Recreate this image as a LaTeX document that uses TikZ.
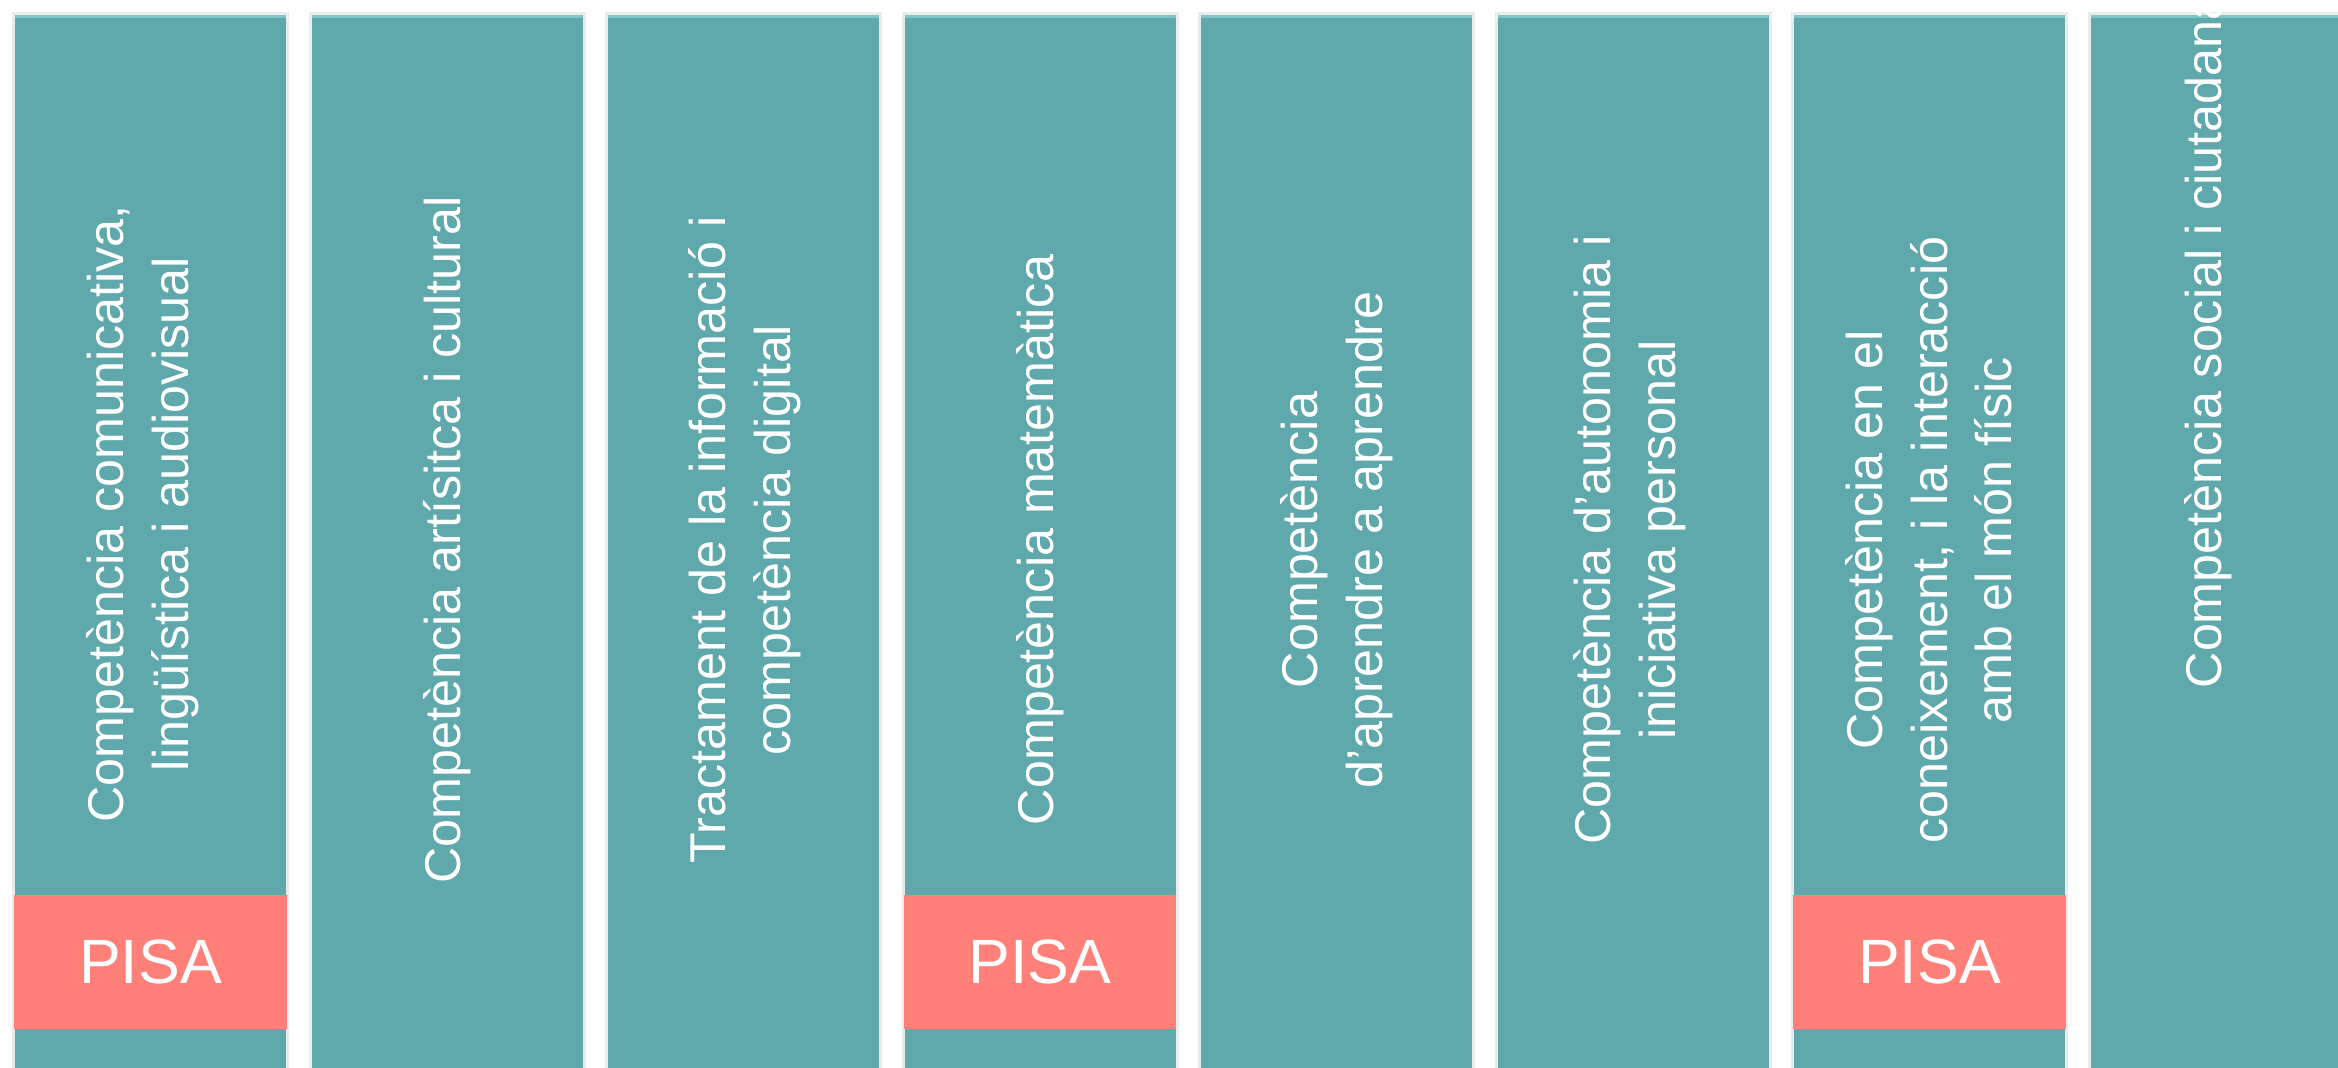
\documentclass[tikz,border=0pt]{standalone}
\usepackage{fontspec}
\setmainfont{Liberation Sans}
\definecolor{compteal}{HTML}{5FA8AB}
\definecolor{compedge}{HTML}{80C6C8}
\definecolor{pisared}{HTML}{FF7F79}

\begin{document}
\begin{tikzpicture}[x=0.01cm, y=-0.01cm,
    colbox/.style={fill=compteal, anchor=north west, inner sep=0pt, outer sep=0pt,
      minimum width=2.71cm, minimum height=11cm,
      preaction={draw=black!8, line width=0.06cm},
      path picture={\fill[compedge] (path picture bounding box.north west)
        rectangle ([yshift=-0.035cm]path picture bounding box.north east);}},
    coltext/.style={rotate=90, text=white, align=center, inner sep=0pt,
      font=\fontsize{14.3}{18.4}\selectfont},
    pisabox/.style={fill=pisared, text=white, inner sep=0pt, outer sep=0pt,
      minimum width=2.72cm, minimum height=1.34cm,
      font=\fontsize{17.8}{20}\selectfont}]
  \useasboundingbox (0,0) rectangle (2338,1068);
  \clip (0,0) rectangle (2338,1068);

  \node[colbox] (c1) at (15,15) {};
  \node[colbox] (c2) at (311.5,15) {};
  \node[colbox] (c3) at (608,15) {};
  \node[colbox] (c4) at (904.5,15) {};
  \node[colbox] (c5) at (1201,15) {};
  \node[colbox] (c6) at (1497.5,15) {};
  \node[colbox] (c7) at (1794,15) {};
  \node[colbox] (c8) at (2090.5,15) {};

  \node[pisabox] (p1) at (150.5,962) {PISA};
  \node[pisabox] (p4) at (1040,962) {PISA};
  \node[pisabox] (p7) at (1929.5,962) {PISA};

  \node[coltext] (t1) at (143,514) {Competència comunicativa,\\lingüística i audiovisual};
  \node[coltext] (t2) at (447,540) {Competència artísitca i cultural};
  \node[coltext] (t3) at (745,540) {Tractament de la informació i\\competència digital};
  \node[coltext] (t4) at (1040,540) {Competència matemàtica};
  \node[coltext] (t5) at (1337,540) {Competència\\d’aprendre a aprendre};
  \node[coltext] (t6) at (1630,540) {Competència d’autonomia i\\iniciativa personal};
  \node[coltext] (t7) at (1929,540) {Competència en el\\coneixement, i la interacció\\amb el món físic};
  \node[coltext, anchor=west] (t8) at (2208,689) {Competència social i ciutadana};
\end{tikzpicture}
\end{document}
